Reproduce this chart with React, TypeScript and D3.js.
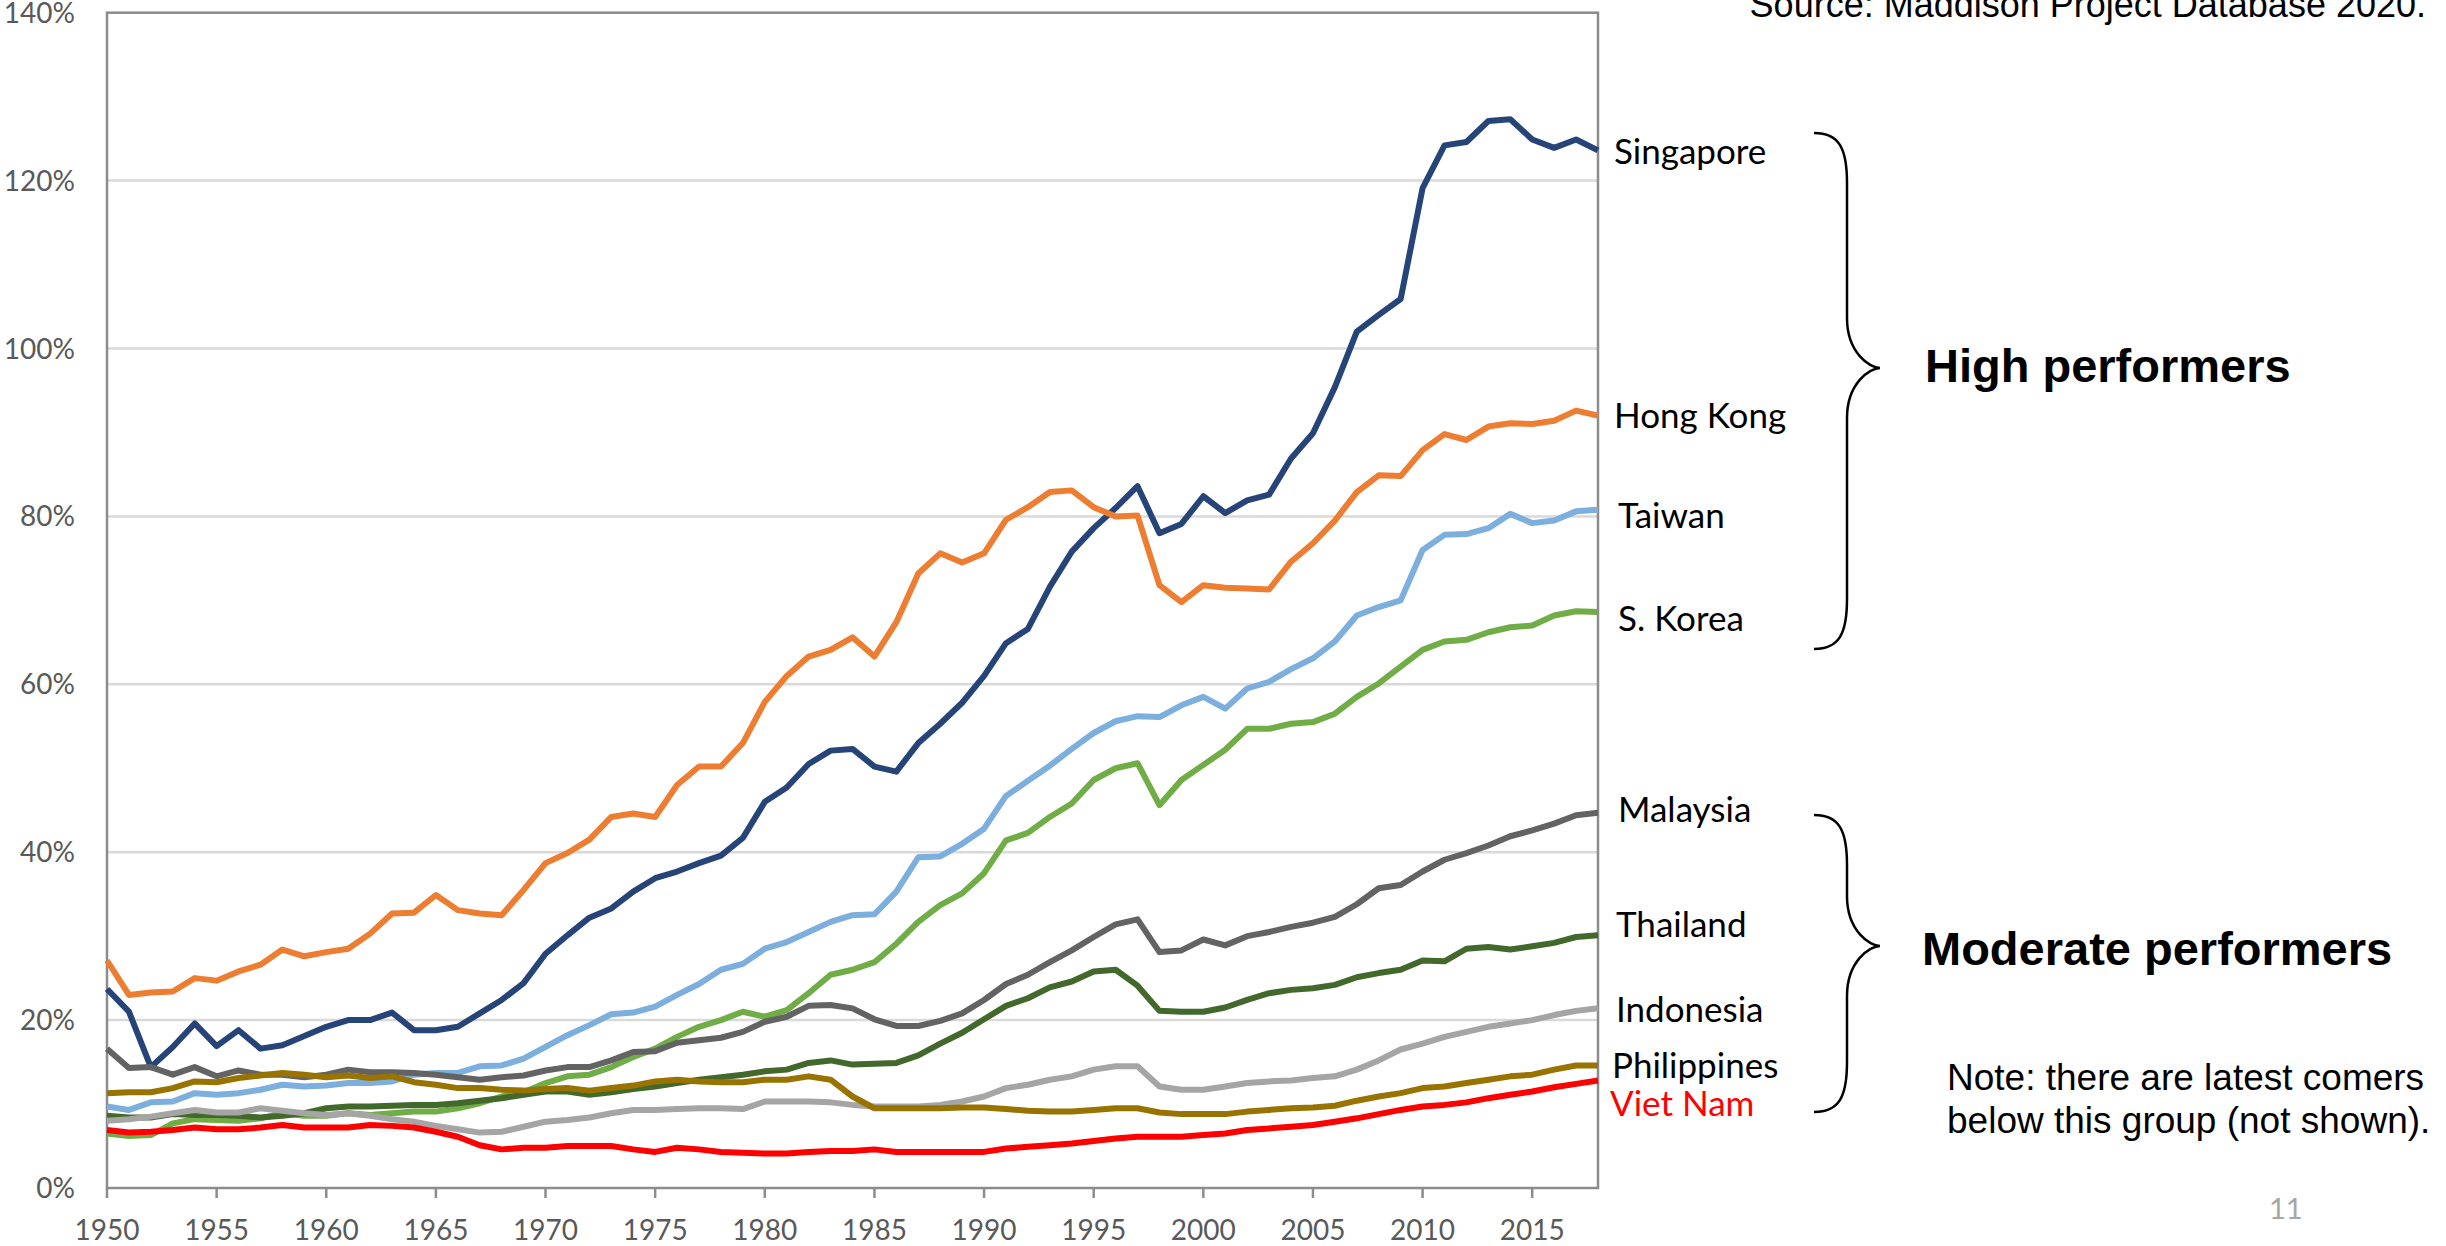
import * as d3 from "d3";

const years = d3.range(1950, 2019);

// GDP per capita relative to the US (%)
const singapore = [
  23.7, 21.0, 14.4, 16.8, 19.6, 16.9, 18.8, 16.6, 17.0, 18.1,
  19.2, 20.0, 20.0, 20.9, 18.8, 18.8, 19.2, 20.8, 22.4, 24.4,
  27.9, 30.1, 32.2, 33.3, 35.3, 36.9, 37.7, 38.7, 39.6, 41.7,
  46.0, 47.7, 50.5, 52.1, 52.3, 50.2, 49.6, 53.0, 55.3, 57.8,
  61.0, 64.9, 66.6, 71.6, 75.8, 78.6, 81.0, 83.6, 78.0, 79.1,
  82.4, 80.4, 81.9, 82.6, 86.9, 89.9, 95.4, 102.0, 104.0, 105.9,
  119.1, 124.2, 124.6, 127.1, 127.3, 124.9, 123.9, 124.9, 123.6,
];
const hongKong = [
  27.1, 23.0, 23.3, 23.4, 25.0, 24.7, 25.8, 26.6, 28.4, 27.6,
  28.1, 28.5, 30.3, 32.7, 32.8, 34.9, 33.1, 32.7, 32.5, 35.5,
  38.7, 39.9, 41.5, 44.2, 44.6, 44.2, 48.0, 50.2, 50.2, 53.0,
  57.9, 61.0, 63.3, 64.1, 65.6, 63.3, 67.4, 73.2, 75.6, 74.5,
  75.6, 79.6, 81.1, 82.9, 83.1, 81.1, 80.0, 80.1, 71.8, 69.8,
  71.8, 71.5, 71.4, 71.3, 74.6, 76.8, 79.5, 82.9, 84.9, 84.8,
  87.9, 89.8, 89.1, 90.7, 91.1, 91.0, 91.4, 92.6, 92.0,
];
const taiwan = [
  9.7, 9.3, 10.2, 10.3, 11.3, 11.1, 11.3, 11.7, 12.3, 12.1,
  12.2, 12.5, 12.5, 12.7, 13.5, 13.7, 13.7, 14.5, 14.6, 15.4,
  16.8, 18.2, 19.4, 20.7, 20.9, 21.6, 23.0, 24.3, 26.0, 26.7,
  28.5, 29.3, 30.5, 31.7, 32.5, 32.6, 35.3, 39.4, 39.5, 41.0,
  42.8, 46.7, 48.5, 50.3, 52.3, 54.2, 55.6, 56.2, 56.1, 57.5,
  58.5, 57.1, 59.5, 60.3, 61.8, 63.1, 65.1, 68.2, 69.2, 70.0,
  76.0, 77.8, 77.9, 78.6, 80.3, 79.2, 79.5, 80.6, 80.8,
];
const korea = [
  6.5, 6.2, 6.3, 7.7, 8.2, 8.1, 8.0, 8.3, 8.9, 8.6,
  8.6, 8.9, 8.7, 8.9, 9.1, 9.1, 9.5, 10.1, 10.9, 11.4,
  12.5, 13.3, 13.5, 14.4, 15.6, 16.6, 18.0, 19.2, 20.0, 21.0,
  20.4, 21.2, 23.2, 25.4, 26.0, 26.9, 29.1, 31.7, 33.7, 35.1,
  37.5, 41.4, 42.3, 44.2, 45.8, 48.6, 50.0, 50.6, 45.6, 48.6,
  50.4, 52.2, 54.7, 54.7, 55.3, 55.5, 56.5, 58.5, 60.1, 62.1,
  64.1, 65.1, 65.3, 66.2, 66.8, 67.0, 68.2, 68.7, 68.6,
];
const malaysia = [
  16.6, 14.3, 14.4, 13.5, 14.4, 13.3, 14.0, 13.5, 13.5, 13.2,
  13.5, 14.1, 13.8, 13.8, 13.7, 13.5, 13.2, 12.9, 13.2, 13.4,
  14.0, 14.4, 14.4, 15.2, 16.2, 16.3, 17.3, 17.6, 17.9, 18.6,
  19.8, 20.4, 21.7, 21.8, 21.4, 20.1, 19.3, 19.3, 19.9, 20.8,
  22.4, 24.3, 25.4, 26.9, 28.3, 29.9, 31.4, 32.0, 28.1, 28.3,
  29.6, 28.9, 30.0, 30.5, 31.1, 31.6, 32.3, 33.8, 35.7, 36.1,
  37.7, 39.1, 39.9, 40.8, 41.9, 42.6, 43.4, 44.4, 44.7,
];
const thailand = [
  8.6, 8.4, 8.4, 8.8, 8.7, 8.7, 8.6, 8.4, 8.6, 8.9,
  9.5, 9.7, 9.7, 9.8, 9.9, 9.9, 10.1, 10.4, 10.7, 11.1,
  11.5, 11.5, 11.1, 11.4, 11.8, 12.1, 12.5, 12.9, 13.2, 13.5,
  13.9, 14.1, 14.9, 15.2, 14.7, 14.8, 14.9, 15.8, 17.2, 18.5,
  20.1, 21.7, 22.6, 23.9, 24.6, 25.8, 26.0, 24.1, 21.1, 21.0,
  21.0, 21.5, 22.4, 23.2, 23.6, 23.8, 24.2, 25.1, 25.6, 26.0,
  27.1, 27.0, 28.5, 28.7, 28.4, 28.8, 29.2, 29.9, 30.1,
];
const indonesia = [
  8.0, 8.2, 8.5, 8.9, 9.3, 9.0, 9.0, 9.5, 9.2, 8.9,
  8.7, 8.9, 8.6, 8.2, 7.9, 7.4, 7.0, 6.6, 6.7, 7.3,
  7.9, 8.1, 8.4, 8.9, 9.3, 9.3, 9.4, 9.5, 9.5, 9.4,
  10.3, 10.3, 10.3, 10.2, 9.9, 9.7, 9.7, 9.7, 9.9, 10.3,
  10.9, 11.9, 12.3, 12.9, 13.3, 14.1, 14.5, 14.5, 12.1, 11.7,
  11.7, 12.1, 12.5, 12.7, 12.8, 13.1, 13.3, 14.1, 15.2, 16.5,
  17.2, 18.0, 18.6, 19.2, 19.6, 20.0, 20.6, 21.1, 21.4,
];
const philippines = [
  11.3, 11.4, 11.4, 11.9, 12.7, 12.6, 13.1, 13.4, 13.7, 13.5,
  13.2, 13.4, 13.1, 13.3, 12.6, 12.3, 11.9, 11.9, 11.7, 11.6,
  11.8, 11.9, 11.6, 11.9, 12.2, 12.7, 12.9, 12.7, 12.6, 12.6,
  12.9, 12.9, 13.3, 12.9, 10.9, 9.5, 9.5, 9.5, 9.5, 9.6,
  9.6, 9.4, 9.2, 9.1, 9.1, 9.3, 9.5, 9.5, 9.0, 8.8,
  8.8, 8.8, 9.1, 9.3, 9.5, 9.6, 9.8, 10.4, 10.9, 11.3,
  11.9, 12.1, 12.5, 12.9, 13.3, 13.5, 14.1, 14.6, 14.6,
];
const vietNam = [
  6.9, 6.6, 6.7, 6.9, 7.2, 7.0, 7.0, 7.2, 7.5, 7.2,
  7.2, 7.2, 7.5, 7.4, 7.2, 6.7, 6.1, 5.1, 4.6, 4.8,
  4.8, 5.0, 5.0, 5.0, 4.6, 4.3, 4.8, 4.6, 4.3, 4.2,
  4.1, 4.1, 4.3, 4.4, 4.4, 4.6, 4.3, 4.3, 4.3, 4.3,
  4.3, 4.7, 4.9, 5.1, 5.3, 5.6, 5.9, 6.1, 6.1, 6.1,
  6.3, 6.5, 6.9, 7.1, 7.3, 7.5, 7.9, 8.3, 8.8, 9.3,
  9.7, 9.9, 10.2, 10.7, 11.1, 11.5, 12.0, 12.4, 12.8,
];

const yTicks = [0, 20, 40, 60, 80, 100, 120, 140];
const xTicks = d3.range(1950, 2019, 5);

const series = [
  { name: "Singapore", color: "#264478", values: singapore },
  { name: "Hong Kong", color: "#ED7D31", values: hongKong },
  { name: "Taiwan", color: "#7CAFDD", values: taiwan },
  { name: "S. Korea", color: "#70AD47", values: korea },
  { name: "Malaysia", color: "#636363", values: malaysia },
  { name: "Thailand", color: "#43682B", values: thailand },
  { name: "Indonesia", color: "#A5A5A5", values: indonesia },
  { name: "Philippines", color: "#997300", values: philippines },
  { name: "Viet Nam", color: "#FF0000", values: vietNam },
];

// label baselines to the right of the plot
const labels = [
  { text: "Singapore", x: 1614, y: 164, color: "#000" },
  { text: "Hong Kong", x: 1614, y: 428, color: "#000" },
  { text: "Taiwan", x: 1618, y: 528, color: "#000" },
  { text: "S. Korea", x: 1618, y: 631, color: "#000" },
  { text: "Malaysia", x: 1618, y: 822, color: "#000" },
  { text: "Thailand", x: 1616, y: 937, color: "#000" },
  { text: "Indonesia", x: 1616, y: 1022, color: "#000" },
  { text: "Philippines", x: 1612, y: 1078, color: "#000" },
  { text: "Viet Nam", x: 1610, y: 1116, color: "#FF0000" },
];

const brace = (x0: number, xm: number, xt: number, y0: number, yt: number, y1: number) =>
  `M${x0},${y0} C${x0 + 25},${y0} ${xm},${y0 + 15} ${xm},${y0 + 50}` +
  ` L${xm},${yt - 50} C${xm},${yt - 15} ${xt - 10},${yt} ${xt},${yt}` +
  ` C${xt - 10},${yt} ${xm},${yt + 15} ${xm},${yt + 50}` +
  ` L${xm},${y1 - 50} C${xm},${y1 - 15} ${x0 + 25},${y1} ${x0},${y1}`;

export default function App() {
  const width = 2446;
  const height = 1246;
  const left = 107, right = 1598, top = 12.7, bottom = 1188;

  const x = d3.scaleLinear().domain([1950, 2018]).range([left, right]);
  const y = d3.scaleLinear().domain([0, 140]).range([bottom, top]);

  const line = d3
    .line<number>()
    .x((d, i) => x(years[i]))
    .y((d) => y(d));

  const axisFont = "Lato";

  return (
    <svg
      width={width}
      height={height}
      style={{ position: "absolute", left: 0, top: 0, display: "block", background: "#fff" }}
    >
      {/* gridlines */}
      {yTicks.slice(1, -1).map((t) => (
        <line key={t} x1={left} x2={right} y1={y(t)} y2={y(t)} stroke="#D9D9D9" strokeWidth={2.5} />
      ))}

      {/* plot frame */}
      <rect
        x={left}
        y={top}
        width={right - left}
        height={bottom - top}
        fill="none"
        stroke="#8C8C8C"
        strokeWidth={2.5}
      />

      {/* x ticks */}
      {xTicks.map((t) => (
        <g key={t}>
          <line x1={x(t)} x2={x(t)} y1={bottom} y2={bottom + 10} stroke="#8C8C8C" strokeWidth={2.5} />
          <text x={x(t)} y={1240} textAnchor="middle" fontFamily={axisFont} fontSize={28} fill="#595959">
            {t}
          </text>
        </g>
      ))}

      {/* y tick labels */}
      {yTicks.map((t) => (
        <text key={t} x={75} y={y(t)} dy="0.36em" textAnchor="end" fontFamily={axisFont} fontSize={28} fill="#595959">
          {t}%
        </text>
      ))}

      {/* series lines */}
      {series.map((s) => (
        <path
          key={s.name}
          d={line(s.values) || ""}
          fill="none"
          stroke={s.color}
          strokeWidth={6}
          strokeLinejoin="round"
        />
      ))}

      {/* country labels */}
      {labels.map((l) => (
        <text key={l.text} x={l.x} y={l.y} fontFamily={axisFont} fontSize={35} fill={l.color}>
          {l.text}
        </text>
      ))}

      {/* braces */}
      <path d={brace(1814, 1847, 1880, 133, 368, 649)} fill="none" stroke="#000" strokeWidth={2.5} />
      <path d={brace(1814, 1847, 1880, 815, 946, 1112)} fill="none" stroke="#000" strokeWidth={2.5} />

      <text x={1925} y={382} fontFamily="Liberation Sans, Arial" fontWeight="bold" fontSize={47} fill="#000">
        High performers
      </text>
      <text x={1922} y={965} fontFamily="Liberation Sans, Arial" fontWeight="bold" fontSize={47} fill="#000">
        Moderate performers
      </text>

      <text x={2426} y={17} textAnchor="end" fontFamily="Liberation Sans, Arial" fontSize={36} fill="#000">
        Source: Maddison Project Database 2020.
      </text>

      <text fontFamily="Liberation Sans, Arial" fontSize={37} fill="#000">
        <tspan x={1947} y={1090}>Note: there are latest comers</tspan>
        <tspan x={1947} y={1133}>below this group (not shown).</tspan>
      </text>

      <text x={2269} y={1219} fontFamily={axisFont} fontSize={29} fill="#A6A6A6">
        11
      </text>
    </svg>
  );
}
